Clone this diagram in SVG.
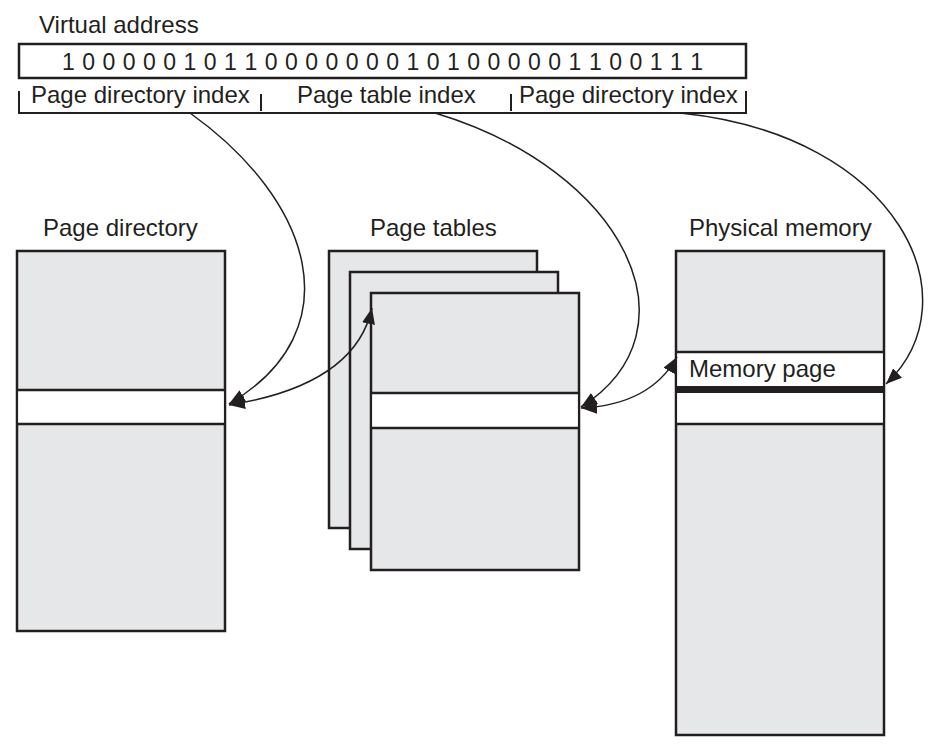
<svg xmlns="http://www.w3.org/2000/svg" width="933" height="747" viewBox="0 0 933 747">
<style>
text{font-family:"Liberation Sans",Arial,sans-serif;font-size:24px;fill:#231f20}
.box{fill:#e6e7e9;stroke:#231f20;stroke-width:2.5}
.band{fill:#ffffff;stroke:none}
.ln{stroke:#231f20;stroke-width:2.5;fill:none}
.br{stroke:#231f20;stroke-width:2;fill:none}
.conn{stroke:#231f20;stroke-width:1.5;fill:none}
</style>
<defs>
<marker id="ah" markerUnits="userSpaceOnUse" markerWidth="17" markerHeight="13" refX="16" refY="6.5" orient="auto-start-reverse">
<path d="M0,0 L16,6.5 L0,13 z" fill="#231f20"/>
</marker>
</defs>
<rect width="933" height="747" fill="#ffffff"/>

<g id="virtual-address">
<text x="39" y="33">Virtual address</text>
<rect x="19" y="44" width="727" height="34" fill="#ffffff" stroke="#231f20" stroke-width="2.5"/>
<text x="62" y="70" textLength="641" lengthAdjust="spacing" style="font-size:23px">1 0 0 0 0 0 1 0 1 1 0 0 0 0 0 0 0 1 0 1 0 0 0 0 0 1 1 0 0 1 1 1</text>
<path class="br" d="M19,91 V113 H746 V91 M261,94 V111 M511,94 V111"/>
<text x="31" y="103">Page directory index</text>
<text x="297" y="103">Page table index</text>
<text x="519" y="103">Page directory index</text>
</g>

<g id="page-directory">
<text x="43" y="236">Page directory</text>
<rect class="box" x="17" y="251" width="208" height="380"/>
<rect class="band" x="18.25" y="390" width="205.5" height="34"/>
<path class="ln" d="M17,390 H225 M17,424 H225"/>
</g>

<g id="page-tables">
<text x="370" y="236">Page tables</text>
<rect class="box" x="329" y="251" width="208" height="277"/>
<rect class="box" x="350" y="272" width="208" height="277"/>
<rect class="box" x="371" y="293" width="208" height="277"/>
<rect class="band" x="372.25" y="393" width="205.5" height="35"/>
<path class="ln" d="M371,393 H579 M371,428 H579"/>
</g>

<g id="physical-memory">
<text x="689" y="236">Physical memory</text>
<rect class="box" x="676" y="251" width="208" height="484"/>
<rect class="band" x="677.25" y="352" width="205.5" height="72"/>
<path class="ln" d="M676,352 H884 M676,424 H884"/>
<rect x="676" y="386" width="208" height="7" fill="#231f20"/>
<text x="689" y="377">Memory page</text>
</g>

<g id="connectors">
<path class="conn" d="M190,113 C312,200 354,330 229,404" marker-end="url(#ah)"/>
<path class="conn" d="M229,405 Q355,385 372,308" marker-start="url(#ah)" marker-end="url(#ah)"/>
<path class="conn" d="M435,113 C625,170 702,330 581,407" marker-end="url(#ah)"/>
<path class="conn" d="M581,408 Q650,405 677,357" marker-start="url(#ah)" marker-end="url(#ah)"/>
<path class="conn" d="M680,113 C900,135 975,300 886,384" marker-end="url(#ah)"/>
</g>
</svg>
